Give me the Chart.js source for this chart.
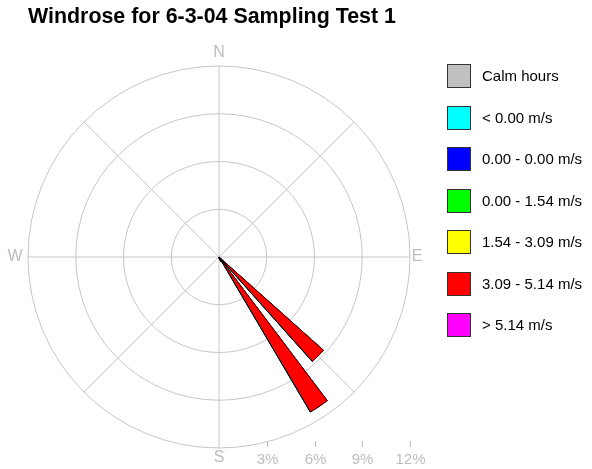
<!DOCTYPE html>
<html>
<head>
<meta charset="utf-8">
<script src="https://cdn.jsdelivr.net/npm/chart.js@4.4.1/dist/chart.umd.min.js"></script>
<style>
  html, body { margin: 0; padding: 0; background: #ffffff; }
  #wrap { width: 592px; height: 469px; position: relative; }
</style>
</head>
<body>
<div id="wrap"><canvas id="rose"></canvas></div>
<script>
// 32-point compass directions (sector centres, clockwise from north)
const directions = ['N','NbE','NNE','NEbN','NE','NEbE','ENE','EbN',
                    'E','EbS','ESE','SEbE','SE','SEbS','SSE','SbE',
                    'S','SbW','SSW','SWbS','SW','SWbW','WSW','WbS',
                    'W','WbN','WNW','NWbW','NW','NWbN','NNW','NbW'];

// Legend entries and colours
const speedClasses = ['Calm hours', '< 0.00 m/s', '0.00 - 0.00 m/s', '0.00 - 1.54 m/s',
                      '1.54 - 3.09 m/s', '3.09 - 5.14 m/s', '> 5.14 m/s'];
const classColors = ['#c0c0c0', '#00ffff', '#0000ff', '#00ff00', '#ffff00', '#ff0000', '#ff00ff'];

// Frequency (% of hours) per direction for each wind speed class
const belowZero  = [0,0,0,0,0,0,0,0, 0,0,0,0,0,0,0,0, 0,0,0,0,0,0,0,0, 0,0,0,0,0,0,0,0];
const zeroToZero = [0,0,0,0,0,0,0,0, 0,0,0,0,0,0,0,0, 0,0,0,0,0,0,0,0, 0,0,0,0,0,0,0,0];
const upTo154    = [0,0,0,0,0,0,0,0, 0,0,0,0,0.1,0.1,0.15,0.1, 0,0,0,0,0,0,0,0, 0,0,0,0,0,0,0,0];
const upTo309    = [0,0,0,0,0,0,0,0, 0,0,0,0,0.25,0.3,0.15,0, 0,0,0,0,0,0,0,0, 0,0,0,0,0,0,0,0];
const upTo514    = [0,0,0,0,0,0,0,0, 0,0,0,0,8.45,10.9,0,0, 0,0,0,0,0,0,0,0, 0,0,0,0,0,0,0,0];
const above514   = [0,0,0,0,0,0,0,0, 0,0,0,0,0,0,0,0, 0,0,0,0,0,0,0,0, 0,0,0,0,0,0,0,0];

// Radial axis ticks (percent) and compass labels
const ringTicks = [3, 6, 9, 12];
const compassLabels = ['N', 'E', 'S', 'W'];

const SECTOR = 360 / directions.length;
const WEDGE = 6.5;               // drawn petal width in degrees
const GRID = '#c6c6c6';
const FONT = "'Liberation Sans', Arial, sans-serif";

// Stack speed classes outward: each dataset holds the cumulative total,
// and every direction is followed by an empty spacer arc.
const bands = [belowZero, zeroToZero, upTo154, upTo309, upTo514, above514];
const running = directions.map(() => 0);
const datasets = bands.map((band, k) => {
  const data = [];
  band.forEach((v, i) => {
    running[i] += v;
    data.push(+running[i].toFixed(3), 0);
  });
  return {
    label: speedClasses[k + 1],
    data,
    backgroundColor: classColors[k + 1],
    borderColor: '#000000',
    borderWidth: ctx => (ctx.raw > 0 ? 1 : 0),
    angle: ctx => (ctx.index % 2 === 0 ? WEDGE : SECTOR - WEDGE)
  };
});
const labels = [];
directions.forEach(d => labels.push(d, ''));

const roseDecor = {
  id: 'roseDecor',
  beforeDatasetsDraw(chart) {
    const s = chart.scales.r, c = chart.ctx;
    c.save();
    c.strokeStyle = GRID;
    c.lineWidth = 1;
    for (let a = 0; a < 360; a += 45) {
      const rad = (a - 90) * Math.PI / 180;
      c.beginPath();
      c.moveTo(s.xCenter, s.yCenter);
      c.lineTo(s.xCenter + s.drawingArea * Math.cos(rad), s.yCenter + s.drawingArea * Math.sin(rad));
      c.stroke();
    }
    c.restore();
  },
  afterDraw(chart) {
    const s = chart.scales.r, c = chart.ctx;
    const R = s.drawingArea;
    c.save();
    // compass letters
    c.fillStyle = '#bdbdbd';
    c.font = '16px ' + FONT;
    c.textAlign = 'center';
    c.textBaseline = 'middle';
    const pos = { N: [0, -R - 13], E: [R + 7, 0], S: [0, R + 10], W: [-R - 13, 0] };
    compassLabels.forEach(l => c.fillText(l, s.xCenter + pos[l][0], s.yCenter + pos[l][1]));
    // percent scale along the bottom
    c.font = '15px ' + FONT;
    c.strokeStyle = '#bdbdbd';
    ringTicks.forEach(v => {
      const x = Math.round(s.xCenter + s.getDistanceFromCenterForValue(v)) + 0.5;
      c.beginPath();
      c.moveTo(x, s.yCenter + R - 7);
      c.lineTo(x, s.yCenter + R - 1);
      c.stroke();
      c.fillText(v + '%', x, s.yCenter + R + 12);
    });
    // legend
    c.textAlign = 'left';
    c.font = '15px ' + FONT;
    speedClasses.forEach((name, k) => {
      const y = Math.round(64 + k * 41.5);
      c.fillStyle = classColors[k];
      c.fillRect(447, y, 24, 24);
      c.strokeStyle = '#333333';
      c.strokeRect(447.5, y + 0.5, 23, 23);
      c.fillStyle = '#000000';
      c.fillText(name, 482, y + 13);
    });
    c.restore();
  }
};

new Chart(document.getElementById('rose'), {
  type: 'polarArea',
  data: { labels, datasets },
  options: {
    responsive: true,
    maintainAspectRatio: false,
    animation: false,
    layout: { padding: { left: 28, right: 182, top: 0, bottom: 20 } },
    scales: {
      r: {
        min: 0,
        max: 12,
        startAngle: -WEDGE / 2,
        ticks: { stepSize: 3, display: false },
        grid: { circular: true, color: GRID, lineWidth: 1 },
        angleLines: { display: false },
        pointLabels: { display: false }
      }
    },
    plugins: {
      legend: { display: false },
      tooltip: { enabled: false },
      title: {
        display: true,
        text: 'Windrose for 6-3-04 Sampling Test 1',
        align: 'start',
        color: '#000000',
        font: { family: FONT, size: 21.4, weight: 'bold' },
        padding: { top: 4, bottom: 37.3 }
      }
    }
  },
  plugins: [roseDecor]
});
</script>
</body>
</html>
